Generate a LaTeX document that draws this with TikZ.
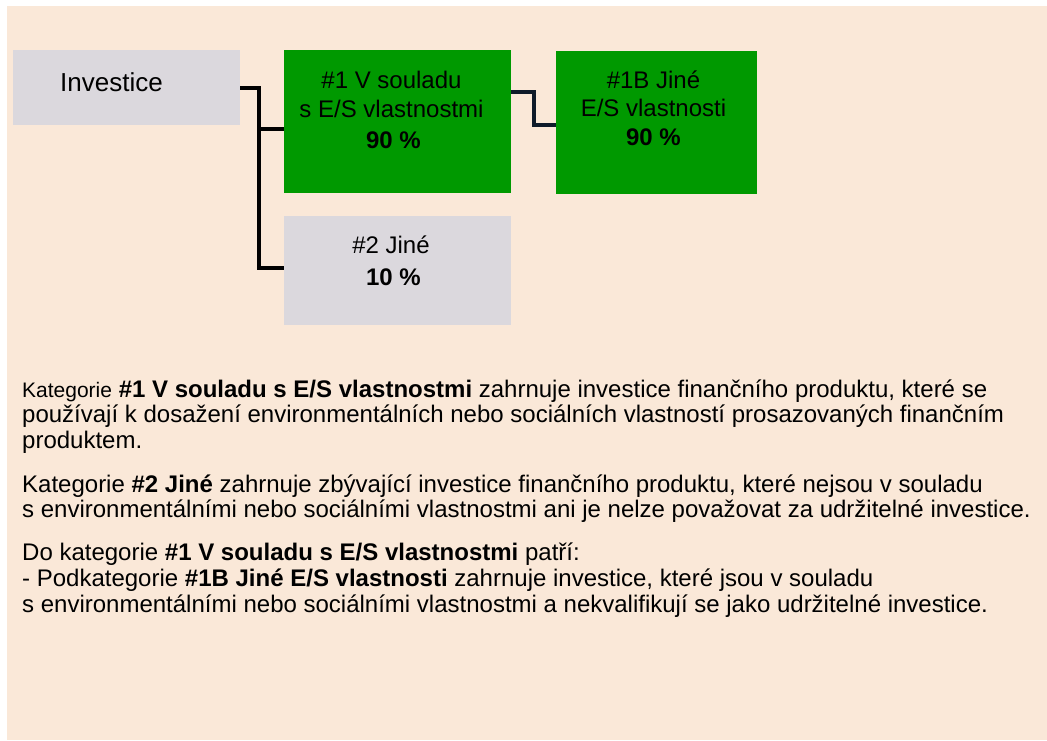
\documentclass[tikz,border=0pt]{standalone}
\usepackage{fontspec}
\setmainfont{Liberation Sans}
\usetikzlibrary{calc}
\definecolor{bgbeige}{RGB}{250,232,216}
\definecolor{boxgrey}{RGB}{219,216,221}
\definecolor{boxgreen}{RGB}{0,153,0}
\definecolor{navyline}{RGB}{15,27,42}
\tikzset{
  box/.style={draw=none, anchor=north west, inner sep=0pt, outer sep=0pt},
  greybox/.style={box, fill=boxgrey},
  greenbox/.style={box, fill=boxgreen},
  boxtxt/.style={anchor=base, inner sep=0pt, font=\fontsize{24}{28}\selectfont},
  body/.style={anchor=base west, inner sep=0pt, font=\fontsize{24}{26}\selectfont},
  conn/.style={line width=4pt, draw=black},
  connb/.style={line width=4pt, draw=navyline}
}
\begin{document}
\begin{tikzpicture}[x=1pt,y=-1pt]
\useasboundingbox (0,0) rectangle (1047,740);
\fill[bgbeige] (7,6) rectangle (1047,740);

% boxes
\node[greybox, minimum width=227pt, minimum height=75pt] (inv) at (13,50) {};
\node[greenbox, minimum width=227pt, minimum height=143pt] (g1) at (284,50) {};
\node[greenbox, minimum width=201pt, minimum height=143pt] (g1b) at (556,51) {};
\node[greybox, minimum width=227pt, minimum height=109pt] (g2) at (284,216) {};

% box texts
\node[anchor=base west, inner sep=0pt, font=\fontsize{26}{30}\selectfont] (tinv) at (60,91) {Investice};
\node[boxtxt] (t1a) at (391.5,88) {\#1 V souladu};
\node[boxtxt] (t1b) at (391.5,117) {s E/S vlastnostmi};
\node[boxtxt, font=\fontsize{24}{28}\selectfont\bfseries] (t1c) at (393.5,148) {90 \%};
\node[boxtxt] (t1ba) at (653.5,88) {\#1B Jiné};
\node[boxtxt] (t1bb) at (653.5,116) {E/S vlastnosti};
\node[boxtxt, font=\fontsize{24}{28}\selectfont\bfseries] (t1bc) at (653.5,145) {90 \%};
\node[boxtxt] (t2a) at (391,253) {\#2 Jiné};
\node[boxtxt, font=\fontsize{24}{28}\selectfont\bfseries] (t2b) at (393.5,285) {10 \%};

% connectors
\coordinate (j1) at (259,87.5);
\coordinate (e1) at ([yshift=-7.5pt]g1.west);
\coordinate (e2) at ([yshift=3pt]g2.west);
\draw[conn] (inv.east) -- (j1) |- (e2);
\draw[conn] (j1 |- e1) -- (e1);
\coordinate (a1) at ([yshift=29.5pt]g1.east);
\coordinate (b1) at ([yshift=-2.5pt]g1b.west);
\draw[connb] (a1) -| ($(a1)!0.5!(b1)$) |- (b1);

% body text
\node[body] (l1) at (22,397) {{\fontsize{21}{24}\selectfont Kategorie} \textbf{\#1 V souladu s E/S vlastnostmi} zahrnuje investice finančního produktu, které se};
\node[body] (l2) at (22,422) {používají k dosažení environmentálních nebo sociálních vlastností prosazovaných finančním};
\node[body] (l3) at (22,448) {produktem.};
\node[body] (l4) at (22,492) {Kategorie \textbf{\#2 Jiné} zahrnuje zbývající investice finančního produktu, které nejsou v souladu};
\node[body] (l5) at (22,517) {s environmentálními nebo sociálními vlastnostmi ani je nelze považovat za udržitelné investice.};
\node[body] (l6) at (22,560) {Do kategorie \textbf{\#1 V souladu s E/S vlastnostmi} patří:};
\node[body] (l7) at (22,586) {- Podkategorie \textbf{\#1B Jiné E/S vlastnosti} zahrnuje investice, které jsou v souladu};
\node[body] (l8) at (22,612) {s environmentálními nebo sociálními vlastnostmi a nekvalifikují se jako udržitelné investice.};
\end{tikzpicture}
\end{document}
